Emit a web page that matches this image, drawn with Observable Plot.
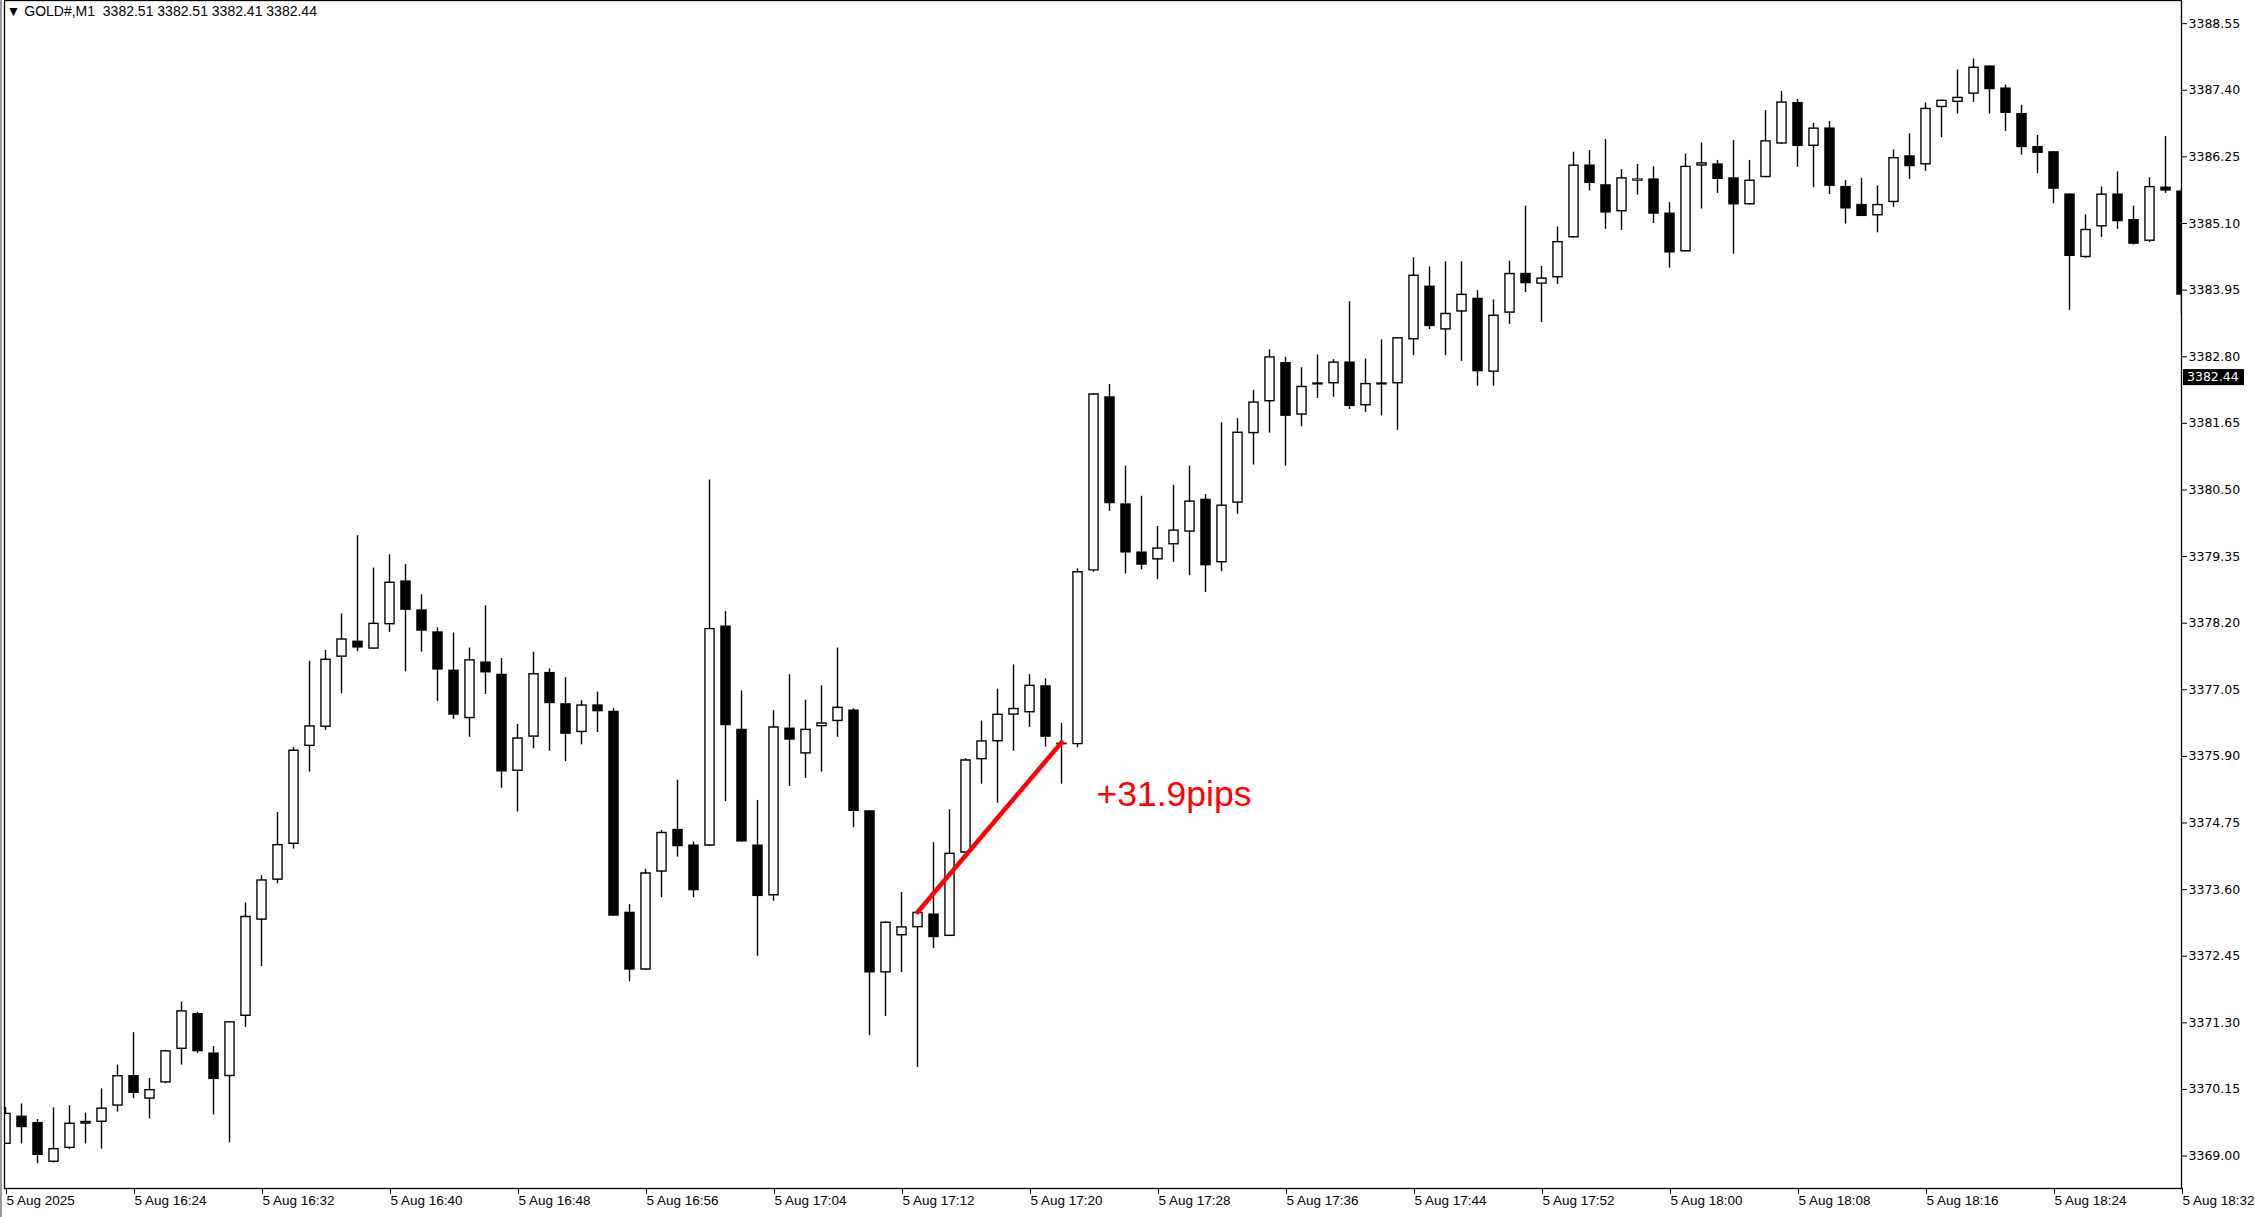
<!DOCTYPE html>
<html><head><meta charset="utf-8">
<script src="https://cdn.jsdelivr.net/npm/d3@7"></script>
<script src="https://cdn.jsdelivr.net/npm/@observablehq/plot@0.6"></script>
<style>
html,body{margin:0;padding:0;background:#fff;overflow:hidden;}
#chart{position:relative;width:2255px;height:1217px;}
#chart::before{content:"";position:absolute;left:0;top:0;width:2px;height:1217px;background:#9a9a9a;}
</style></head><body><div id="chart"></div>
<script>
// ---- data ----
const symbol = "GOLD#,M1";
const headerOHLC = [3382.51, 3382.51, 3382.41, 3382.44];
const lastPrice = 3382.44;
const startTime = "2025-08-05T16:16:00Z"; // first bar, one bar per minute
const opens = [3369.20,3369.69,3369.58,3368.89,3369.13,3369.55,3369.58,3369.86,3370.39,3369.98,
3370.26,3370.84,3371.46,3370.78,3370.37,3371.41,3373.07,3373.76,3374.38,3376.07,
3376.40,3377.61,3377.89,3377.75,3378.17,3378.93,3378.43,3378.05,3377.39,3376.55,
3377.53,3377.32,3375.64,3376.23,3377.35,3376.81,3376.31,3376.79,3376.68,3373.21,
3372.21,3373.90,3374.64,3374.37,3374.35,3378.15,3376.37,3374.37,3373.49,3376.39,
3375.94,3376.41,3376.50,3376.70,3374.96,3372.16,3372.80,3372.94,3373.18,3372.79,
3374.23,3375.84,3376.15,3376.61,3376.65,3377.12,3376.13,3376.10,3379.10,3382.11,
3380.26,3379.43,3379.29,3379.55,3379.77,3380.34,3379.24,3380.27,3381.47,3382.02,
3382.70,3381.79,3382.35,3382.33,3382.71,3381.95,3382.35,3382.33,3383.09,3384.02,
3383.26,3383.57,3383.81,3382.53,3383.55,3384.24,3384.05,3384.16,3384.85,3386.11,
3385.77,3385.30,3385.83,3385.87,3385.28,3384.61,3386.09,3386.13,3385.89,3385.42,
3385.89,3386.47,3387.19,3386.43,3386.75,3385.74,3385.43,3385.23,3385.46,3386.27,
3386.11,3387.10,3387.19,3387.33,3387.82,3387.44,3387.00,3386.43,3386.34,3385.61,
3384.51,3385.04,3385.61,3385.17,3384.79,3385.73,3385.66];
const highs = [3369.84,3369.90,3369.63,3369.83,3369.87,3369.74,3370.16,3370.57,3371.13,3370.34,
3370.82,3371.66,3371.48,3370.89,3371.32,3373.37,3373.84,3374.93,3376.05,3377.54,
3377.73,3378.36,3379.71,3379.15,3379.38,3379.21,3378.69,3378.12,3378.03,3377.77,
3378.50,3377.59,3376.45,3377.70,3377.41,3377.26,3376.86,3377.01,3376.73,3373.34,
3373.95,3374.62,3375.49,3374.42,3380.67,3378.40,3377.03,3375.14,3376.69,3377.31,
3376.87,3377.12,3377.77,3376.72,3374.96,3373.04,3373.55,3373.21,3374.41,3374.98,
3375.86,3376.51,3377.06,3377.48,3377.31,3377.24,3376.47,3379.14,3382.16,3382.32,
3380.91,3380.39,3379.87,3380.58,3380.91,3380.42,3381.66,3381.73,3382.22,3382.92,
3382.79,3382.61,3382.83,3382.75,3383.75,3382.76,3383.09,3383.13,3384.51,3384.35,
3384.44,3384.44,3383.94,3383.78,3384.45,3385.40,3384.36,3385.04,3386.33,3386.36,
3386.55,3386.03,3386.12,3386.08,3385.46,3386.30,3386.49,3386.19,3386.53,3386.19,
3387.05,3387.38,3387.24,3386.83,3386.86,3385.84,3385.88,3385.75,3386.37,3386.65,
3387.18,3387.23,3387.75,3387.94,3387.82,3387.49,3387.14,3386.62,3386.34,3385.61,
3385.25,3385.73,3385.99,3385.40,3385.89,3386.60,3385.70];
const lows = [3369.20,3369.21,3368.87,3368.88,3369.11,3369.21,3369.12,3369.76,3369.99,3369.64,
3370.25,3370.57,3370.77,3369.71,3369.23,3371.22,3372.27,3373.70,3374.30,3375.63,
3376.35,3376.98,3377.71,3377.75,3378.04,3377.36,3377.70,3376.85,3376.54,3376.23,
3376.97,3375.35,3374.94,3376.03,3375.99,3375.81,3376.10,3376.31,3373.14,3372.01,
3372.21,3373.46,3374.16,3373.46,3374.35,3375.12,3374.42,3372.45,3373.40,3375.38,
3375.52,3375.63,3376.23,3374.67,3371.08,3371.41,3372.17,3370.53,3372.58,3372.79,
3374.23,3375.42,3375.09,3375.99,3376.40,3376.06,3375.42,3376.05,3379.08,3380.13,
3379.05,3379.12,3378.95,3379.25,3379.02,3378.73,3379.09,3380.08,3380.93,3381.48,
3380.91,3381.59,3382.08,3382.10,3381.89,3381.84,3381.78,3381.53,3382.82,3383.27,
3382.82,3382.72,3382.29,3382.29,3383.36,3383.91,3383.39,3384.05,3384.85,3385.66,
3385.00,3384.98,3385.59,3385.10,3384.33,3384.61,3385.35,3385.62,3384.57,3385.42,
3385.89,3386.47,3386.07,3385.72,3385.60,3385.09,3385.22,3384.94,3385.38,3385.86,
3386.00,3386.58,3386.99,3387.19,3386.99,3386.69,3386.28,3385.96,3385.44,3383.60,
3384.50,3384.86,3385.00,3384.73,3384.77,3385.62,3383.53];
const closes = [3369.74,3369.49,3369.01,3369.13,3369.57,3369.60,3369.83,3370.39,3370.08,3370.15,
3370.82,3371.51,3370.80,3370.32,3371.32,3373.14,3373.77,3374.38,3376.01,3376.43,
3377.58,3377.93,3377.77,3378.20,3378.91,3378.42,3378.06,3377.39,3376.61,3377.57,
3377.34,3375.63,3376.22,3377.33,3376.81,3376.28,3376.79,3376.67,3373.14,3372.21,
3373.89,3374.59,3374.34,3373.58,3378.11,3376.43,3374.42,3373.48,3376.41,3376.18,
3376.37,3376.48,3376.75,3374.95,3372.16,3373.04,3372.96,3373.21,3372.77,3374.23,
3375.84,3376.17,3376.63,3376.73,3377.13,3376.23,3376.10,3379.09,3382.16,3380.26,
3379.41,3379.20,3379.50,3379.81,3380.31,3379.19,3380.24,3381.50,3382.02,3382.80,
3381.77,3382.29,3382.31,3382.71,3381.94,3382.34,3382.31,3383.13,3384.21,3383.32,
3383.55,3383.88,3382.54,3383.52,3384.24,3384.06,3384.16,3384.79,3386.11,3385.79,
3385.28,3385.89,3385.87,3385.26,3384.59,3386.09,3386.15,3385.86,3385.42,3385.85,
3386.53,3387.20,3386.43,3386.75,3385.74,3385.35,3385.22,3385.43,3386.24,3386.08,
3387.09,3387.23,3387.28,3387.80,3387.41,3387.00,3386.41,3386.31,3385.69,3384.53,
3385.00,3385.61,3385.13,3384.74,3385.74,3385.66,3383.86];
const yTicks = [3369.00,3370.15,3371.30,3372.45,3373.60,3374.75,3375.90,3377.05,3378.20,
3379.35,3380.50,3381.65,3382.80,3383.95,3385.10,3386.25,3387.40,3388.55];
const xTickTimes = ["16:16","16:24","16:32","16:40","16:48","16:56","17:04","17:12","17:20",
"17:28","17:36","17:44","17:52","18:00","18:08","18:16","18:24","18:32"];
const measureTimes = ["17:13","17:22"];
const measurePrices = [3373.21, 3376.14];
const measureLabel = "+31.9pips";
const measureLabelTime = "17:24:11";
const measureLabelPrice = 3375.24;

// ---- build ----
const t0 = new Date(startTime);
const at = s => new Date(`2025-08-05T${s}Z`);
const bars = opens.map((o, i) => ({t: new Date(+t0 + i * 60000), open: o, high: highs[i], low: lows[i], close: closes[i]}));
const upBars = bars.filter(d => d.close >= d.open);
const bodyTop = d => Math.max(d.open, d.close);
const bodyBot = d => Math.min(d.open, d.close);
const measurePts = measureTimes.map((s, i) => ({t: at(s), p: measurePrices[i]}));
const xTicks = xTickTimes.map(at);
const fmtHM = d3.utcFormat("%H:%M");

const chart = Plot.plot({
  width: 2255, height: 1217,
  marginLeft: 4, marginRight: 74, marginTop: 0, marginBottom: 29,
  x: {type: "utc", domain: [new Date(+t0 - 3750), new Date(+t0 + 136 * 60000)], label: null},
  y: {domain: [3368.44, 3388.95], label: null},
  style: {background: "white", fontFamily: "'Liberation Sans', Arial, sans-serif", color: "black"},
  marks: [
    Plot.ruleX(bars, {x: "t", y1: "high", y2: "low", stroke: "black", strokeWidth: 1.4, clip: true}),
    Plot.ruleX(bars, {x: "t", y1: bodyTop, y2: bodyBot, stroke: "black", strokeWidth: 10.5, clip: true}),
    Plot.ruleX(upBars, {x: "t", y1: bodyTop, y2: bodyBot, stroke: "white", strokeWidth: 7.8, insetTop: 1.4, insetBottom: 1.4, clip: true}),
    Plot.line(measurePts, {x: "t", y: "p", stroke: "#ff0000", strokeWidth: 4.5}),
    Plot.text([measureLabel], {x: () => at(measureLabelTime), y: () => measureLabelPrice, text: d => d,
      fill: "#ff0000", fontSize: 35.5, textAnchor: "start", lineAnchor: "middle"}),
    Plot.frame({stroke: "black", strokeWidth: 1.3}),
    Plot.axisX({ticks: xTicks, tickFormat: d => +d === +t0 ? "5 Aug 2025" : "5 Aug " + fmtHM(d),
      textAnchor: "start", dx: 1, tickSize: 6, tickPadding: 1, fontSize: 13.5, label: null}),
    Plot.axisY({anchor: "right", ticks: yTicks, tickFormat: d3.format(".2f"), tickSize: 5, tickPadding: 2,
      fontSize: 12.5, fontFamily: "'DejaVu Sans', sans-serif", label: null}),
    Plot.text([`\u25BC ${symbol}  ${headerOHLC.map(v => v.toFixed(2)).join(" ")}`], {frameAnchor: "top-left", text: d => d,
      dx: 2, dy: 6, fontSize: 14, textAnchor: "start", lineAnchor: "top"})
  ]
});

// current price tag on the price scale
const ySc = chart.scale("y");
const yy = ySc.apply(lastPrice);
const svg = d3.select(chart);
svg.append("rect").attr("x", 2183).attr("y", yy - 8).attr("width", 61).attr("height", 16).attr("fill", "black");
svg.append("text").attr("x", 2187).attr("y", yy).attr("dy", "0.35em").attr("fill", "white")
  .attr("text-anchor", "start")
  .attr("font-family", "'DejaVu Sans', sans-serif").attr("font-size", 12.5).text(lastPrice.toFixed(2));

document.getElementById("chart").appendChild(chart);
</script></body></html>
